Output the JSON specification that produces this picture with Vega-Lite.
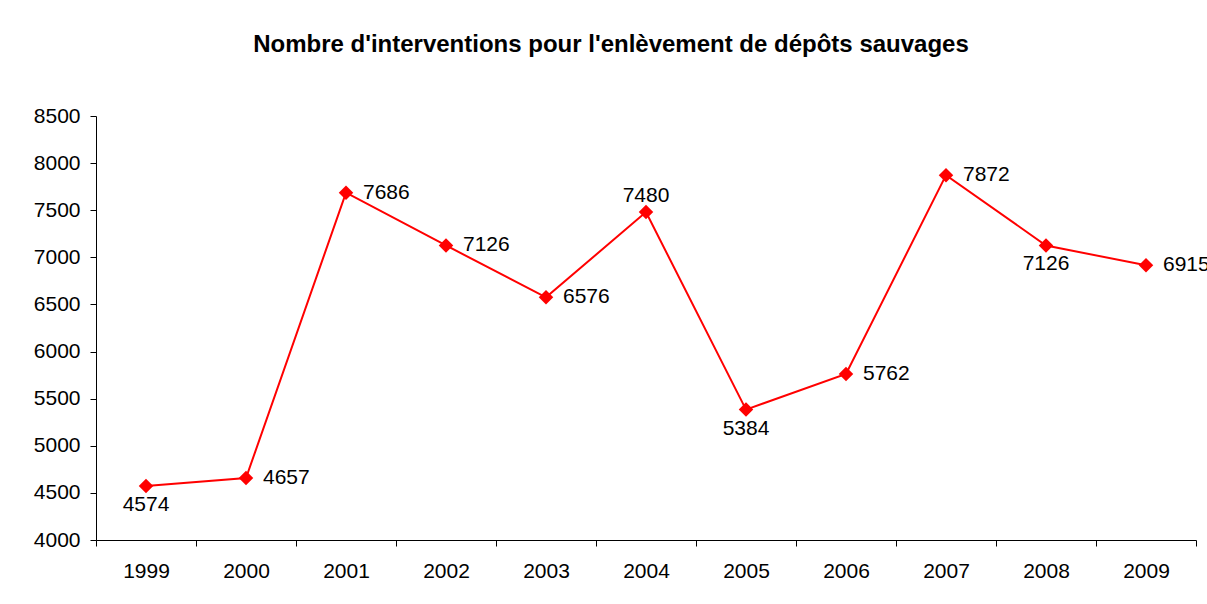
{
  "$schema": "https://vega.github.io/schema/vega-lite/v6.json",
  "autosize": "none",
  "width": 1100,
  "height": 424,
  "padding": {"left": 96, "top": 116, "right": 11, "bottom": 64},
  "background": "white",
  "config": {
    "font": "Liberation Sans",
    "view": {"stroke": null},
    "axis": {"grid": false, "domainColor": "black", "tickColor": "black", "labelColor": "black", "labelFontSize": 21, "labelFont": "Liberation Sans", "tickSize": 6, "domainWidth": 1, "tickWidth": 1}
  },
  "title": {
    "text": "Nombre d'interventions pour l'enlèvement de dépôts sauvages",
    "fontSize": 24,
    "fontWeight": "bold",
    "font": "Liberation Sans",
    "color": "black",
    "anchor": "middle",
    "dx": -35,
    "offset": 48
  },
  "data": {
    "values": [
      {"annee": "1999", "n": 4574},
      {"annee": "2000", "n": 4657},
      {"annee": "2001", "n": 7686},
      {"annee": "2002", "n": 7126},
      {"annee": "2003", "n": 6576},
      {"annee": "2004", "n": 7480},
      {"annee": "2005", "n": 5384},
      {"annee": "2006", "n": 5762},
      {"annee": "2007", "n": 7872},
      {"annee": "2008", "n": 7126},
      {"annee": "2009", "n": 6915}
    ]
  },
  "encoding": {
    "x": {"field": "annee", "type": "ordinal", "scale": {"type": "band", "paddingInner": 0, "paddingOuter": 0}, "axis": {"title": null, "labelAngle": 0, "tickBand": "extent", "labelPadding": 14}},
    "y": {"field": "n", "type": "quantitative", "scale": {"domain": [4000, 8500], "nice": false, "zero": false}, "axis": {"title": null, "format": "d", "values": [4000, 4500, 5000, 5500, 6000, 6500, 7000, 7500, 8000, 8500], "labelPadding": 10}}
  },
  "layer": [
    {"mark": {"type": "line", "color": "#FF0000", "strokeWidth": 2}},
    {"mark": {"type": "point", "shape": "diamond", "filled": true, "color": "#FF0000", "opacity": 1, "size": 210}},
    {
      "transform": [{"filter": {"field": "annee", "oneOf": ["2000", "2001", "2002", "2003", "2006", "2007", "2009"]}}],
      "mark": {"type": "text", "align": "left", "baseline": "middle", "dx": 17, "fontSize": 21, "color": "black", "clip": false},
      "encoding": {"text": {"field": "n", "type": "quantitative", "format": "d"}}
    },
    {
      "transform": [{"filter": {"field": "annee", "oneOf": ["1999", "2005", "2008"]}}],
      "mark": {"type": "text", "align": "center", "baseline": "middle", "dy": 19, "fontSize": 21, "color": "black"},
      "encoding": {"text": {"field": "n", "type": "quantitative", "format": "d"}}
    },
    {
      "transform": [{"filter": {"field": "annee", "oneOf": ["2004"]}}],
      "mark": {"type": "text", "align": "center", "baseline": "middle", "dy": -16, "fontSize": 21, "color": "black"},
      "encoding": {"text": {"field": "n", "type": "quantitative", "format": "d"}}
    }
  ]
}
